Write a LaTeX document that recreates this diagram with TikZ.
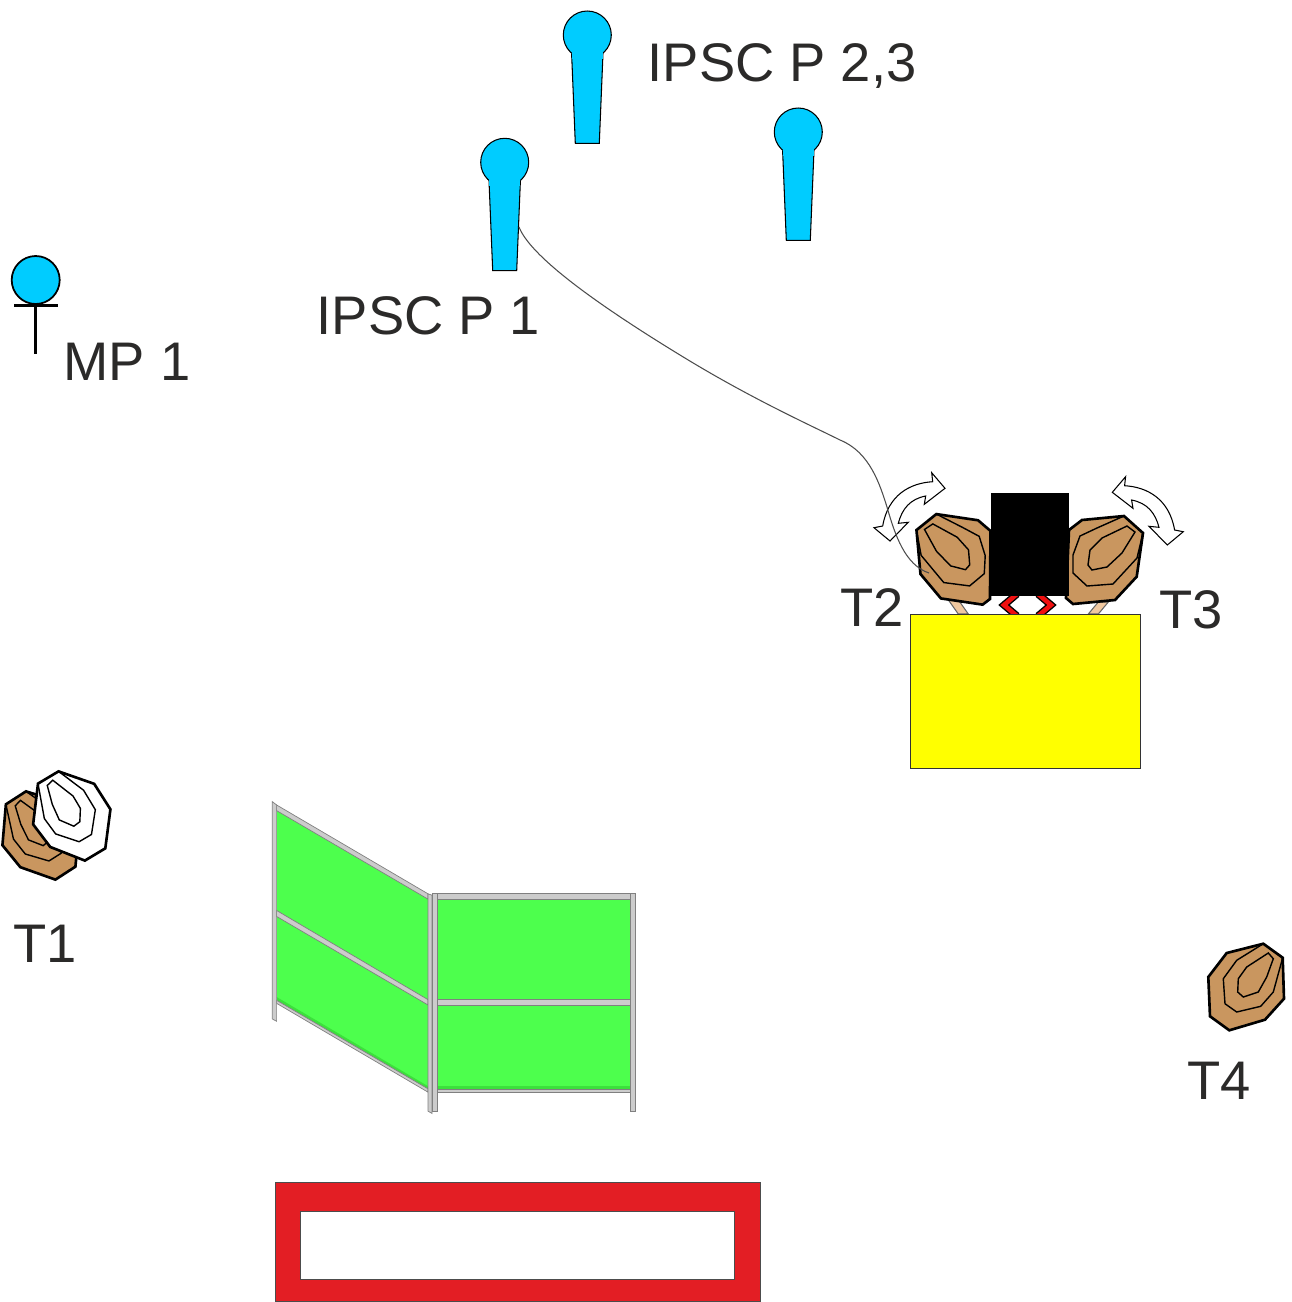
\documentclass[tikz,border=0pt]{standalone}
\usepackage{fontspec}
\setmainfont{Liberation Sans}
\usepackage{tikz}
\usetikzlibrary{positioning}
\tikzset{>=stealth}
\definecolor{mycyan}{HTML}{00CCFF}
\definecolor{mytan}{HTML}{C9965F}
\definecolor{mystem}{HTML}{F0C8A0}
\definecolor{mygreen}{HTML}{4DFF4D}
\definecolor{mydarkgreen}{HTML}{3CE03C}
\definecolor{mybar}{HTML}{CCCCCC}
\definecolor{myred}{HTML}{F01010}
\definecolor{myframe}{HTML}{E31E24}
\definecolor{myyellow}{HTML}{FFFF00}
\definecolor{mytext}{HTML}{2B2A29}
\tikzset{
	outerline/.style={line width=0.75pt,line join=miter},
	innerline/.style={line width=0.4pt,line join=miter},
	fencebar/.style={fill=mybar,draw=gray,line width=0.2pt},
	lbl/.style={anchor=base west,inner sep=0pt,font=\fontsize{15.45}{18}\selectfont,text=mytext},
	shooter/.pic={
		\draw [fill=mycyan,line width=0.3pt] (0,0) circle (24);
		\draw [fill=mycyan,line width=0.3pt] (-15.7,18.3) -- (-12,108.3) -- (12,108.3) -- (15.7,18.3);
		\fill [mycyan] (-15.4,8) rectangle (15.4,24);
	},
	plaintarget/.pic={
		\draw [outerline,pic actions] (17.3,-43.3) -- (36.7,-29.3) -- (38,11.7) -- (19,32.7) -- (-16.7,43.3) -- (-36,29.3) -- (-37.7,-10) -- (-19.3,-34) -- cycle;
		\draw [innerline] (17.3,-43.3) -- (-9.3,-26.7) -- (-22.7,-8.3) -- (-21,16.7) -- (-9.3,25) -- (14.7,19.3) -- (27.3,5) -- (36.7,-29.3);
		\draw [innerline] (22.3,-34) -- (0.7,-20) -- (-7.7,-8.3) -- (-8.3,5) -- (-2.7,10) -- (12.3,5) -- (20.7,-10) -- (27.3,-28.3) -- cycle;
	},
	swingtarget/.pic={
		\draw [outerline,fill=mytan] (19,-44) -- (38,-27) -- (31.7,16.7) -- (10,40) -- (-32,44) -- (-39,38) -- (-36,-30) -- (-23,-40) -- cycle;
		\draw [innerline] (19,-44) -- (-8,-32) -- (-25,-24) -- (-32,-5) -- (-32,13) -- (-18,26) -- (8,24) -- (32,-2) -- (38,-27);
		\draw [innerline] (22,-34) -- (30,-28) -- (17,-7) -- (2,7) -- (-13,10) -- (-17,5) -- (-15,-10) -- (-3,-22) -- cycle;
	},
	swingarrow/.pic={
		\draw [fill=white,line width=0.3pt,line join=miter] (35,-16.7) -- (21.7,-32.3) -- (22.7,-23.3) .. controls (0,-22) and (-22,-10) .. (-27.3,21) -- (-36,22.7) -- (-20,36) -- (-1.7,17.3) -- (-11.7,18.3) .. controls (-8,4) and (0,-6) .. (15.7,-9) -- (14.3,-0.7) -- cycle;
	}
}
\begin{document}
\begin{tikzpicture}[x=0.01cm,y=-0.01cm]
	\useasboundingbox (0,0) rectangle (1292,1302);
	\pic at (587.3,35) {shooter};
	\pic at (798.3,132) {shooter};
	\pic at (504.7,162.3) {shooter};
	\draw [fill=mycyan,line width=0.5pt] (35.7,280) circle (24);
	\draw [line width=0.8pt] (14,305.7) -- (58.3,305.7);
	\draw [line width=0.8pt] (35.7,305.7) -- (35.7,354);
	\node [lbl] (ipsctwo) at (647,81) {IPSC P 2,3};
	\node [lbl] (ipscone) at (316,334.5) {IPSC P 1};
	\node [lbl] (mpone) at (63,380) {MP 1};
	\node [lbl] (ttwo) at (840,626) {T2};
	\node [lbl] (tthree) at (1159,628) {T3};
	\node [lbl] (tone) at (13,962) {T1};
	\node [lbl] (tfour) at (1187,1099) {T4};
	\draw [fill=mystem,draw=black!60,line width=0.3pt] (947,598) -- (958.3,614) -- (968.3,614) -- (957,598) -- cycle;
	\draw [fill=mystem,draw=black!60,line width=0.3pt] (1098.3,602) -- (1088.3,614) -- (1098.3,614) -- (1108.3,602) -- cycle;
	\draw [line width=2.1pt,line join=miter] (1017,594) -- (1004,605) -- (1017,616);
	\draw [line width=2.1pt,line join=miter] (1038,594) -- (1051,605) -- (1038,616);
	\draw [myred,line width=1.3pt,line join=miter] (1017,594) -- (1004,605) -- (1017,616);
	\draw [myred,line width=1.3pt,line join=miter] (1038,594) -- (1051,605) -- (1038,616);
	\pic at (1105,560) {swingtarget};
	\pic [xscale=-1,rotate=3] at (953,559) {swingtarget};
	\fill [black] (990.7,493.3) rectangle (1069.3,596);
	\draw [fill=myyellow,line width=0.25pt,draw=black!80] (910.7,614.3) rectangle (1140,768);
	\pic at (910,505) {swingarrow};
	\pic [xscale=-1] at (1147.3,509) {swingarrow};
	\draw [line width=0.3pt,draw=black!70] (519,227) .. controls (530,255) and (590,300) .. (680,355) .. controls (750,398) and (810,425) .. (840,440) .. controls (870,452) and (880,485) .. (887,507) .. controls (895,535) and (905,565) .. (929,573);
	\pic [fill=mytan,xscale=-1,rotate=3] at (41,835.5) {plaintarget};
	\pic [fill=white,xscale=-1,rotate=5] at (72,816) {plaintarget};
	\pic [fill=mytan] at (1246,987) {plaintarget};
	\begin{scope}[shift={(260,790)},x=0.00333333cm,y=-0.00333333cm]
		\fill [mygreen] (50,60) -- (505,325) -- (505,900) -- (50,625) -- cycle;
		\fill [mygreen] (530,325) rectangle (1112,898);
		\fill [mydarkgreen] (50,622) -- (505,890) -- (505,900) -- (50,632) -- cycle;
		\fill [mydarkgreen] (530,890) rectangle (1112,898);
		\draw [fencebar] (37,35) -- (50,45) -- (50,695) -- (37,688) -- cycle;
		\draw [fencebar] (50,45) -- (505,312) -- (505,328) -- (50,62) -- cycle;
		\draw [fencebar] (50,362) -- (505,630) -- (505,646) -- (50,380) -- cycle;
		\draw [fencebar] (50,632) -- (505,898) -- (505,908) -- (50,641) -- cycle;
		\draw [fencebar] (505,312) -- (517,316) -- (517,972) -- (505,965) -- cycle;
		\draw [fencebar] (517,312) rectangle (532,965);
		\draw [fencebar] (532,312) rectangle (1112,328);
		\draw [fencebar] (532,630) rectangle (1112,646);
		\draw [fencebar] (532,898) rectangle (1112,908);
		\draw [fencebar] (1112,312) rectangle (1128,965);
	\end{scope}
	\draw [fill=myframe,line width=0.25pt,draw=black!70] (275,1182.3) rectangle (760,1301.6);
	\draw [fill=white,line width=0.25pt,draw=black!70] (300.7,1211) rectangle (734,1279);
\end{tikzpicture}
\end{document}
